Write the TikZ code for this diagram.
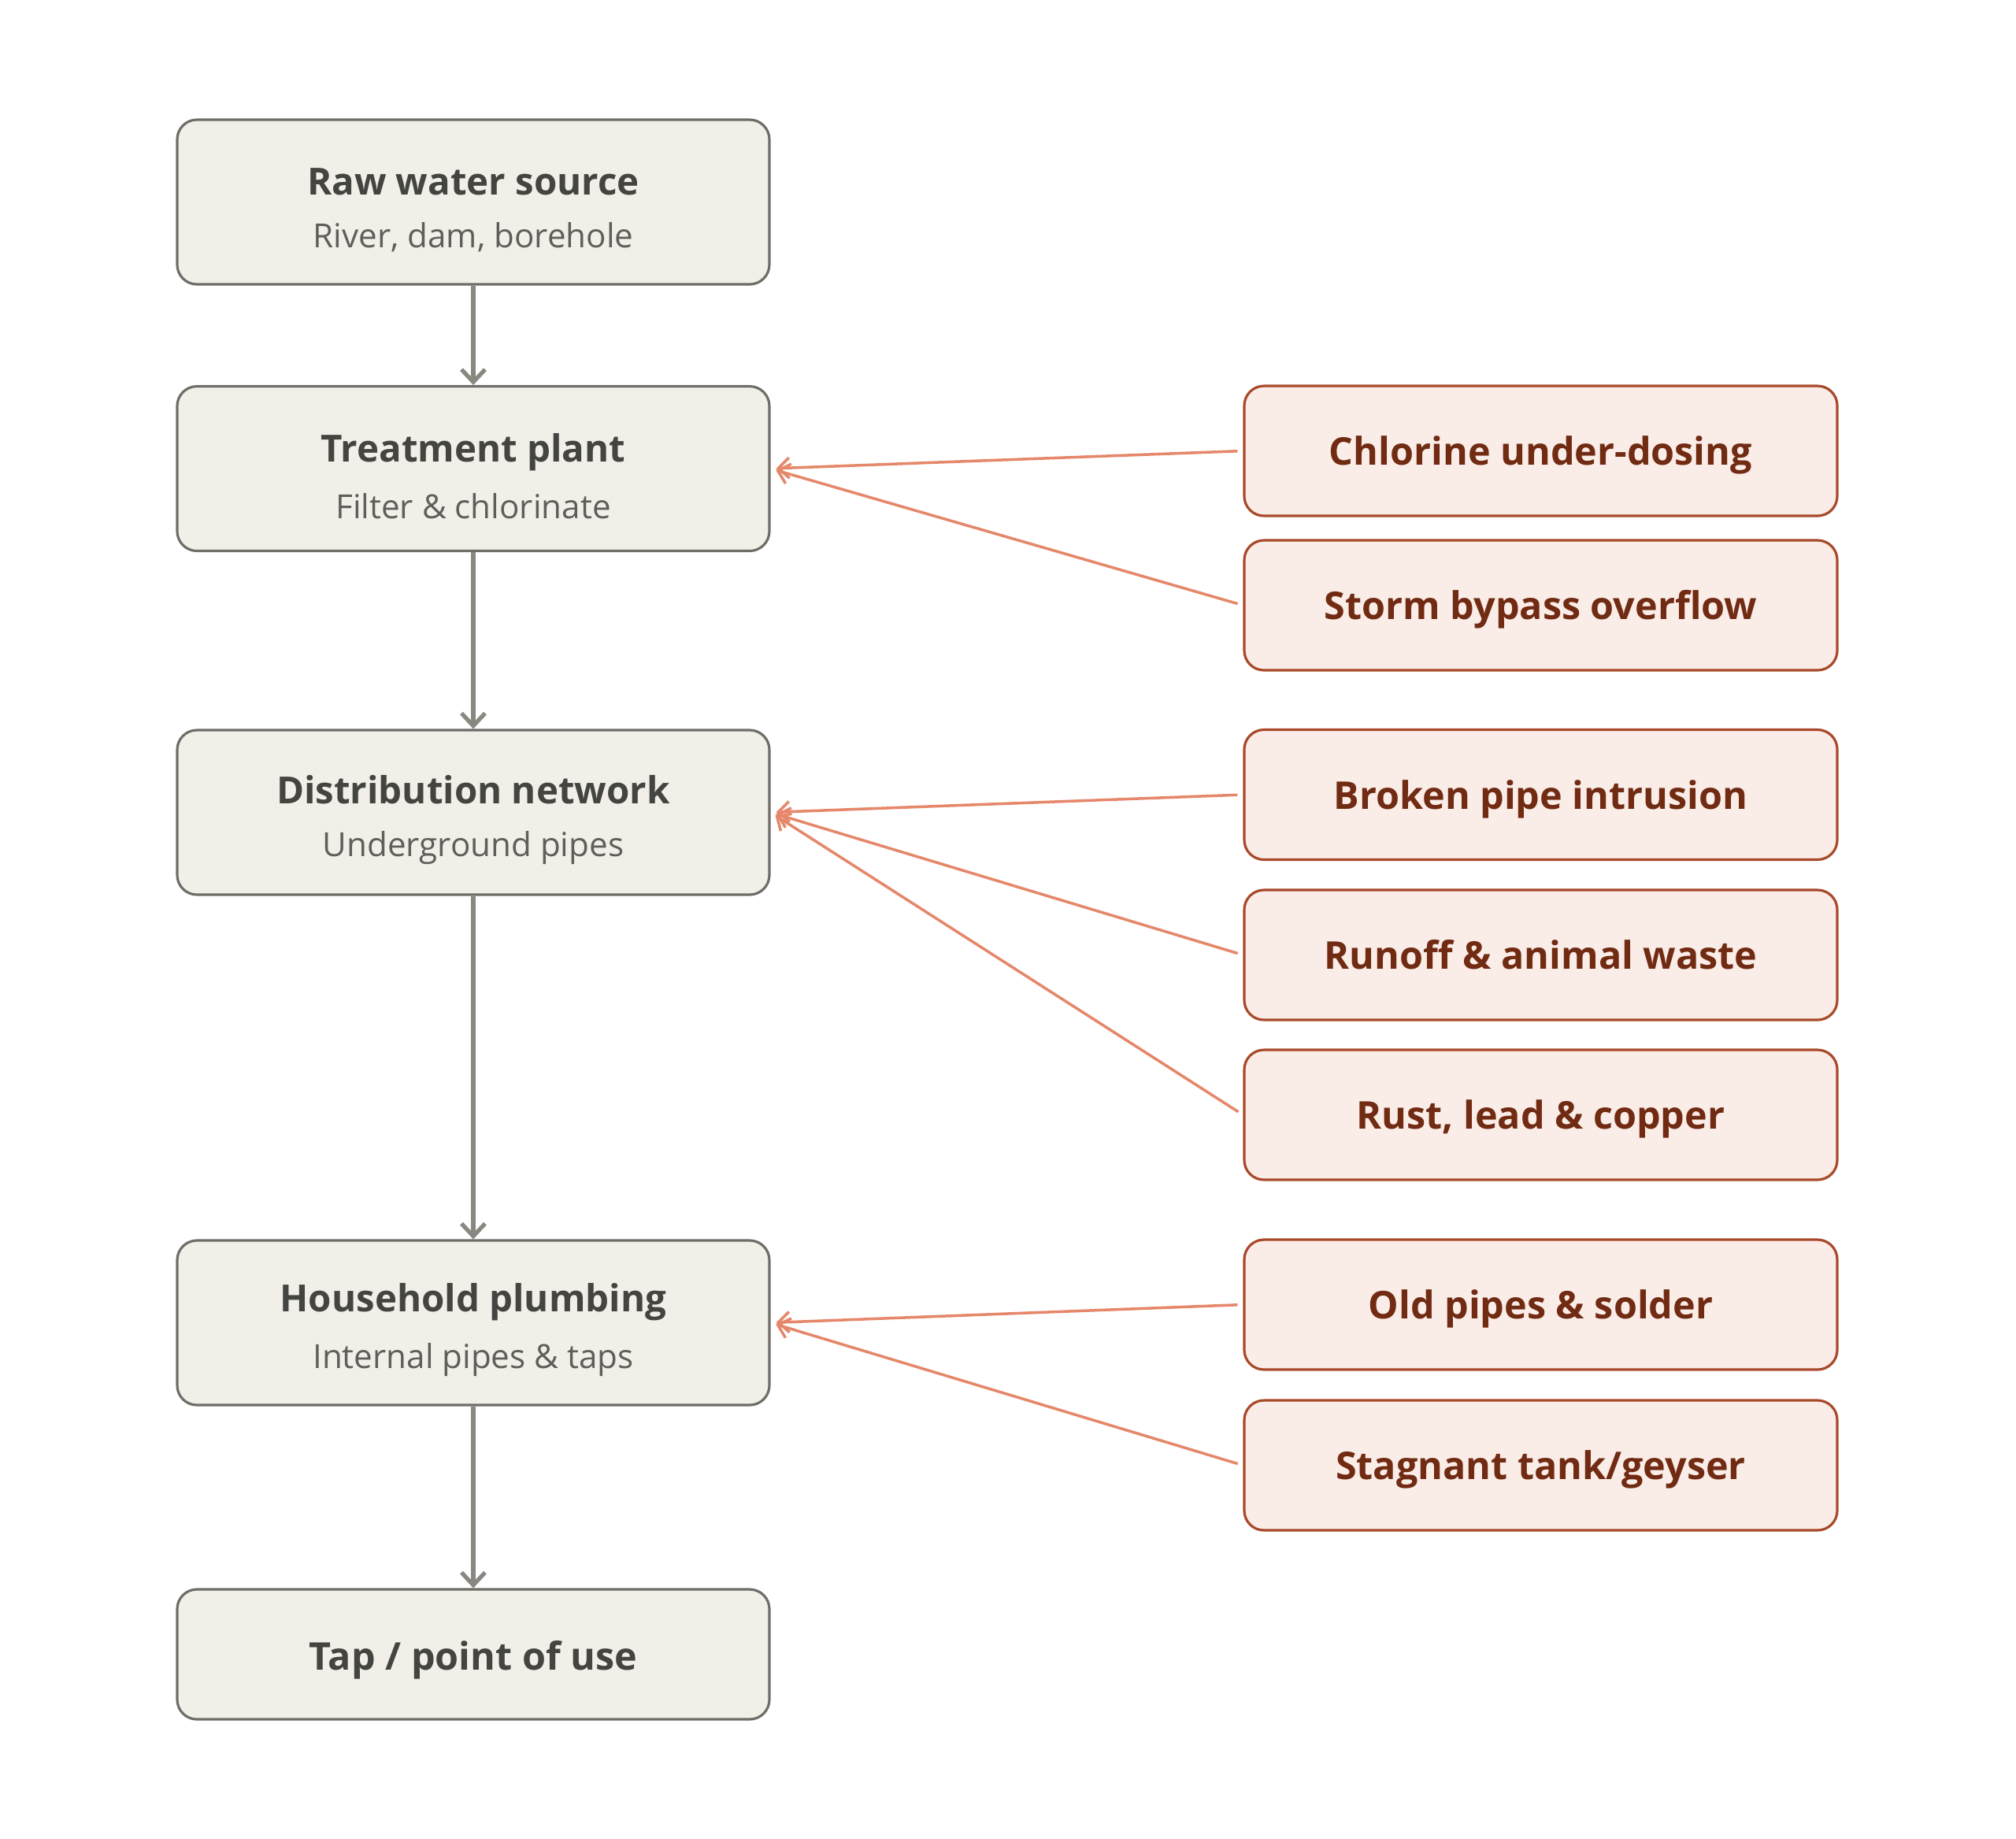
\documentclass[tikz,border=0pt]{standalone}
\usepackage{fontspec}
\setmainfont{Open Sans}
\usetikzlibrary{arrows.meta}

\definecolor{stagefill}{HTML}{F1EFE8}
\definecolor{stageline}{HTML}{6E6D68}
\definecolor{stagetext}{HTML}{444441}
\definecolor{stagesub}{HTML}{5F5E5A}
\definecolor{riskfill}{HTML}{FAECE7}
\definecolor{riskline}{HTML}{A8492A}
\definecolor{risktext}{HTML}{712B13}
\definecolor{flowline}{HTML}{888780}
\definecolor{riskarrow}{HTML}{E5876A}

\newcommand{\stagetxt}[2]{\rule{0pt}{15.5pt}{\fontsize{13.5}{16}\selectfont\bfseries\color{stagetext}#1}\\[0.25cm]{\fontsize{12}{14}\selectfont\color{stagesub}#2}}

\tikzset{
  stagebox/.style = {draw = stageline, line width = 0.9pt, fill = stagefill, rounded corners = 0.25cm,
                     minimum width = 7.52cm, minimum height = 2.09cm, align = center, inner sep = 0pt},
  riskbox/.style  = {draw = riskline, line width = 0.9pt, fill = riskfill, rounded corners = 0.25cm,
                     minimum width = 7.53cm, minimum height = 1.65cm, align = center, inner sep = 0pt,
                     text height = 14pt, text depth = 3.5pt,
                     font = \fontsize{13.8}{17}\selectfont\bfseries, text = risktext},
  flow/.style     = {draw = flowline, line width = 1.5pt, -{Straight Barb[length=0.16cm, width=0.3cm]}},
  risk/.style     = {draw = riskarrow, line width = 1pt, shorten < = 0.07cm, shorten > = 0.07cm,
                     -{Straight Barb[length=0.14cm, width=0.26cm]}}
}

\begin{document}
\begin{tikzpicture}
        \useasboundingbox (0,0) rectangle (25.6,-23.34);

        % stages of the supply
        \node [stagebox] (raw)   at (6.01,-2.565)  {\stagetxt{Raw water source}{River, dam, borehole}};
        \node [stagebox] (treat) at (6.01,-5.95)   {\stagetxt{Treatment plant}{Filter \& chlorinate}};
        \node [stagebox] (dist)  at (6.01,-10.315) {\stagetxt{Distribution network}{Underground pipes}};
        \node [stagebox] (house) at (6.01,-16.795) {\stagetxt{Household plumbing}{Internal pipes \& taps}};
        \node [stagebox, minimum height = 1.65cm, text height = 15pt, text depth = 3.5pt,
               font = \fontsize{13.8}{17}\selectfont\bfseries, text = stagetext]
              (tap) at (6.01,-21.005) {Tap / point of use};

        % contamination risks
        \node [riskbox] (chlor)  at (19.565,-5.725)  {Chlorine under-dosing};
        \node [riskbox] (storm)  at (19.565,-7.685)  {Storm bypass overflow};
        \node [riskbox] (broken) at (19.565,-10.09)  {Broken pipe intrusion};
        \node [riskbox] (runoff) at (19.565,-12.125) {Runoff \& animal waste};
        \node [riskbox] (rust)   at (19.565,-14.155) {Rust, lead \& copper};
        \node [riskbox] (old)    at (19.565,-16.565) {Old pipes \& solder};
        \node [riskbox] (stag)   at (19.565,-18.605) {Stagnant tank/geyser};

        \draw [flow] (raw) -- (treat);
        \draw [flow] (treat) -- (dist);
        \draw [flow] (dist) -- (house);
        \draw [flow] (house) -- (tap);

        \draw [risk] (chlor.west) -- (treat.east);
        \draw [risk] (storm.west) -- (treat.east);

        \draw [risk] (broken.west) -- (dist.east);
        \draw [risk] (runoff.west) -- (dist.east);
        \draw [risk] (rust.west) -- (dist.east);

        \draw [risk] (old.west) -- (house.east);
        \draw [risk] (stag.west) -- (house.east);
    \end{tikzpicture}
\end{document}
